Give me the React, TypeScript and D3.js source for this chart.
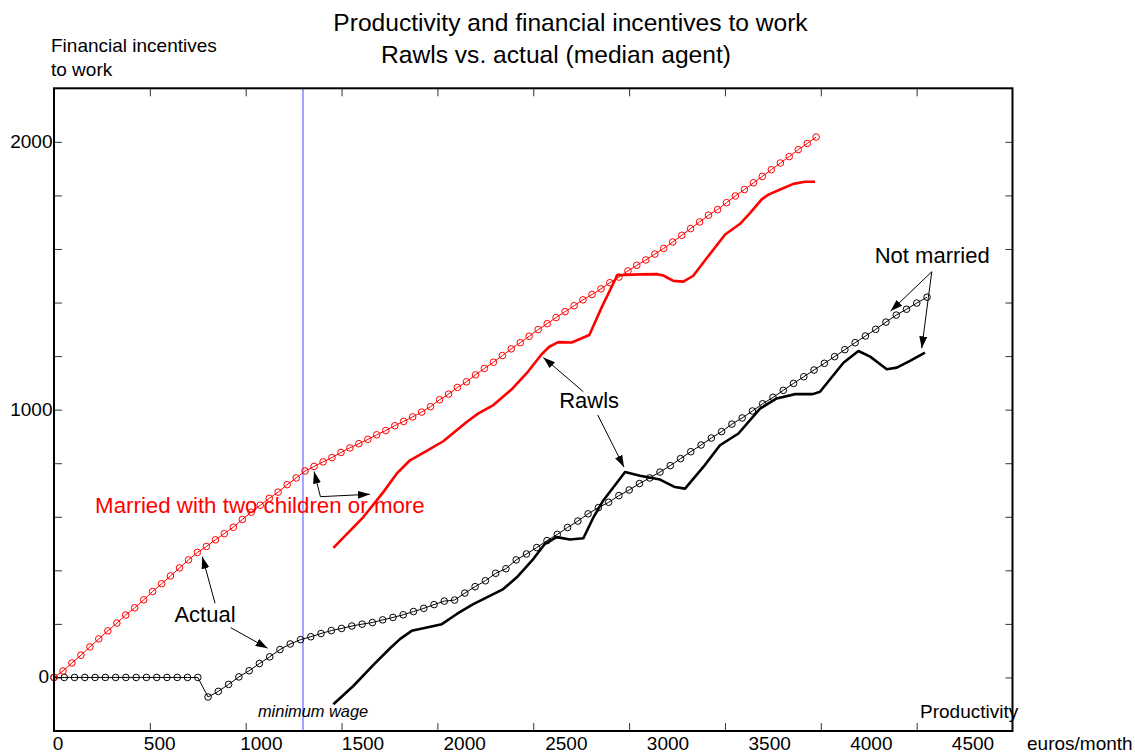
import React, { useEffect, useRef } from 'react';
import * as d3 from 'd3';

// ---------- data ----------
const xTickLabels = [0, 500, 1000, 1500, 2000, 2500, 3000, 3500, 4000, 4500];
const yTickValues = [0, 200, 400, 600, 800, 1000, 1200, 1400, 1600, 1800, 2000];
const yTickLabels = [0, 1000, 2000];
const minimumWage = 1212;

// Actual, not married (black, with markers)
const singleActualX = [
  0, 50, 100, 150, 200, 250, 300, 350, 400, 450, 500, 550, 600, 650, 700, 750, 800, 850, 900, 950,
  1000, 1050, 1100, 1150, 1200, 1250, 1300, 1350, 1400, 1450, 1500, 1550, 1600, 1650, 1700, 1750,
  1800, 1850, 1900, 1950, 2000, 2050, 2100, 2150, 2200, 2250, 2300, 2350, 2400, 2450, 2500, 2550,
  2600, 2650, 2700, 2750, 2800, 2850, 2900, 2950, 3000, 3050, 3100, 3150, 3200, 3250, 3300, 3350,
  3400, 3450, 3500, 3550, 3600, 3650, 3700, 3750, 3800, 3850, 3900, 3950, 4000, 4050, 4100, 4150,
  4200, 4250,
];
const singleActualY = [
  0, 0, 0, 0, 0, 0, 0, 0, 0, 0, 0, 0, 0, 0, 0,
  -73, -52, -26, 2, 25, 52, 77, 104, 125, 141,
  152, 164, 175, 183, 192, 199, 205, 215, 224, 234,
  246, 258, 272, 285, 289, 315, 339, 361, 389, 406,
  439, 461, 485, 511, 534, 560, 584, 611, 634, 654,
  679, 700, 724, 745, 767, 791, 817, 843, 868, 894,
  918, 946, 969, 995, 1022, 1046, 1072, 1098, 1123, 1148,
  1173, 1198, 1224, 1250, 1275, 1300, 1327, 1353, 1375, 1398, 1420,
];

// Actual, married with two children or more (red, with markers)
const marriedActualX = [
  0, 44, 87, 131, 175, 218, 262, 306, 349, 393, 437, 480, 524, 567, 611, 655, 698, 742, 786, 829,
  873, 917, 960, 1004, 1048, 1091, 1135, 1179, 1222, 1266, 1310, 1353, 1397, 1440, 1484, 1528,
  1571, 1615, 1659, 1702, 1746, 1790, 1833, 1877, 1921, 1964, 2008, 2052, 2095, 2139, 2183, 2226,
  2270, 2313, 2357, 2401, 2444, 2488, 2532, 2575, 2619, 2663, 2706, 2750, 2794, 2837, 2881, 2925,
  2968, 3012, 3056, 3099, 3143, 3186, 3230, 3274, 3317, 3361, 3405, 3448, 3492, 3536, 3579, 3623,
  3667, 3710,
];
const marriedActualY = [
  0, 24, 54, 83, 114, 144, 174, 203, 233, 260,
  290, 321, 350, 379, 409, 439, 467, 489, 514, 537,
  561, 590, 617, 643, 669, 692, 720, 745, 771, 788,
  805, 821, 840, 857, 873, 889, 906, 922, 940, 956,
  973, 991, 1011, 1037, 1058, 1083, 1104, 1130, 1154, 1177,
  1202, 1227, 1250, 1274, 1299, 1321, 1344, 1366, 1388, 1410,
  1430, 1451, 1474, 1495, 1518, 1539, 1559, 1581, 1602, 1626,
  1651, 1676, 1701, 1726, 1747, 1773, 1798, 1822, 1847, 1871,
  1896, 1921, 1945, 1971, 1994, 2018,
];

// Rawls, married (red thick)
const marriedRawlsX = [
  1360, 1506, 1603, 1668, 1733, 1806, 1895, 2009, 2066, 2139, 2228, 2301, 2374, 2411, 2455, 2520,
  2606, 2666, 2742, 2853, 2934, 2966, 3015, 3064, 3112, 3178, 3267, 3340, 3389, 3445, 3478, 3535,
  3599, 3656, 3705,
];
const marriedRawlsY = [
  484, 599, 692, 761, 811, 842, 882, 954, 986, 1017, 1076, 1136, 1207, 1235, 1252, 1251,
  1279, 1382, 1502, 1505, 1506, 1501, 1481, 1478, 1500, 1566, 1654, 1694, 1735, 1785, 1803, 1822,
  1843, 1851, 1851,
];

// Rawls, not married (black thick)
const singleRawlsX = [
  1360, 1457, 1555, 1636, 1684, 1741, 1798, 1888, 1961, 2041, 2107, 2187, 2253, 2334, 2390, 2447,
  2512, 2577, 2626, 2674, 2780, 2853, 2950, 3023, 3072, 3161, 3242, 3332, 3437, 3518, 3608, 3694,
  3729, 3843, 3916, 3973, 4054, 4103, 4167, 4240,
];
const singleRawlsY = [
  -100, -32, 47, 109, 143, 174, 184, 199, 237, 274, 299, 330, 374, 443, 499, 524,
  515, 520, 598, 661, 767, 753, 739, 711, 705, 786, 867, 911, 1004, 1042, 1058, 1058,
  1067, 1175, 1219, 1198, 1151, 1157, 1182, 1213,
];

// annotations (data units)
const annotationLabels = ['Actual', 'Rawls', 'Not married'];
const annotationLabelX = [735, 2605, 4275];
const annotationLabelY = [206, 1005, 1546];
const arrowFromX = [784, 860, 1297, 1297, 2577, 2647, 4273, 4273];
const arrowFromY = [277, 186, 675, 675, 1067, 980, 1515, 1515];
const arrowToX = [722, 1040, 1266, 1538, 2382, 2775, 4073, 4224];
const arrowToY = [451, 109, 769, 684, 1195, 785, 1368, 1229];

const xMax = 4666;
const yMin = -200;
const yMax = 2200;

export default function App() {
  const ref = useRef<SVGSVGElement>(null);

  useEffect(() => {
    const svg = d3.select(ref.current);
    svg.selectAll('*').remove();
    const font = "'Liberation Sans', Arial, Helvetica, sans-serif";

    const x = d3.scaleLinear().domain([0, xMax]).range([54, 1012.5]);
    const y = d3.scaleLinear().domain([yMin, yMax]).range([731, 88.3]);
    const labelX = d3.scaleLinear().domain([0, 4500]).range([58, 973]);

    const defs = svg.append('defs');
    defs
      .append('marker')
      .attr('id', 'arrowHead')
      .attr('viewBox', '0 0 12 8')
      .attr('markerWidth', 12)
      .attr('markerHeight', 8)
      .attr('refX', 12)
      .attr('refY', 4)
      .attr('orient', 'auto')
      .attr('markerUnits', 'userSpaceOnUse')
      .append('path')
      .attr('d', 'M0,0L12,4L0,8Z')
      .attr('fill', '#000');

    svg.append('rect').attr('width', 1135).attr('height', 755).attr('fill', '#fff');

    // Title
    svg
      .append('text')
      .attr('x', 570.5)
      .attr('y', 31)
      .attr('text-anchor', 'middle')
      .attr('font-family', font)
      .attr('font-size', 24.6)
      .text('Productivity and financial incentives to work');
    svg
      .append('text')
      .attr('x', 556)
      .attr('y', 63)
      .attr('text-anchor', 'middle')
      .attr('font-family', font)
      .attr('font-size', 24.6)
      .text('Rawls vs. actual (median agent)');

    // Y axis title
    svg
      .append('text')
      .attr('x', 51)
      .attr('y', 52)
      .attr('font-family', font)
      .attr('font-size', 19)
      .text('Financial incentives');
    svg
      .append('text')
      .attr('x', 51)
      .attr('y', 76)
      .attr('font-family', font)
      .attr('font-size', 19)
      .text('to work');

    // ticks
    const xTicks = d3.range(1, 10).map((k) => (k * xMax) / 10);
    const tickColor = '#333';
    svg
      .append('g')
      .attr('transform', `translate(0,${y(yMin)})`)
      .attr('color', tickColor)
      .call(d3.axisBottom(x).tickValues(xTicks).tickSize(-8).tickFormat(() => ''))
      .call((g) => g.select('.domain').remove());
    svg
      .append('g')
      .attr('transform', `translate(0,${y(yMax)})`)
      .attr('color', tickColor)
      .call(d3.axisTop(x).tickValues(xTicks).tickSize(-8).tickFormat(() => ''))
      .call((g) => g.select('.domain').remove());
    svg
      .append('g')
      .attr('transform', `translate(${x(0)},0)`)
      .attr('color', tickColor)
      .call(d3.axisLeft(y).tickValues(yTickValues).tickSize(-8).tickFormat(() => ''))
      .call((g) => g.select('.domain').remove());
    svg
      .append('g')
      .attr('transform', `translate(${x(xMax)},0)`)
      .attr('color', tickColor)
      .call(d3.axisRight(y).tickValues(yTickValues).tickSize(-7).tickFormat(() => ''))
      .call((g) => g.select('.domain').remove());

    // tick labels
    svg
      .append('g')
      .selectAll('text')
      .data(xTickLabels)
      .join('text')
      .attr('x', (d) => labelX(d))
      .attr('y', 750)
      .attr('text-anchor', 'middle')
      .attr('font-family', font)
      .attr('font-size', 19)
      .text((d) => String(d));
    svg
      .append('g')
      .selectAll('text')
      .data(yTickLabels)
      .join('text')
      .attr('x', (d) => (d === 0 ? 49 : 52.5))
      .attr('y', (d) => y(d) + 6)
      .attr('text-anchor', 'end')
      .attr('font-family', font)
      .attr('font-size', 19)
      .text((d) => String(d));

    svg
      .append('text')
      .attr('x', 1027)
      .attr('y', 750)
      .attr('font-family', font)
      .attr('font-size', 19)
      .text('euros/month');
    svg
      .append('text')
      .attr('x', 920)
      .attr('y', 718)
      .attr('font-family', font)
      .attr('font-size', 19)
      .text('Productivity');

    // minimum wage
    svg
      .append('line')
      .attr('x1', x(minimumWage))
      .attr('x2', x(minimumWage))
      .attr('y1', y(yMax))
      .attr('y2', y(yMin))
      .attr('stroke', '#4a4aff')
      .attr('stroke-width', 1);
    svg
      .append('text')
      .attr('x', x(minimumWage) - 45)
      .attr('y', 717)
      .attr('font-family', font)
      .attr('font-size', 16.4)
      .attr('font-style', 'italic')
      .text('minimum wage');

    const line = d3
      .line<[number, number]>()
      .x((d) => x(d[0]))
      .y((d) => y(d[1]));

    const zip = (xs: number[], ys: number[]) => xs.map((v, i) => [v, ys[i]] as [number, number]);

    const single = zip(singleActualX, singleActualY);
    const married = zip(marriedActualX, marriedActualY);

    // Rawls lines
    svg
      .append('path')
      .attr('d', line(zip(singleRawlsX, singleRawlsY)))
      .attr('fill', 'none')
      .attr('stroke', '#000')
      .attr('stroke-width', 2.6)
      .attr('stroke-linejoin', 'round');
    svg
      .append('path')
      .attr('d', line(zip(marriedRawlsX, marriedRawlsY)))
      .attr('fill', 'none')
      .attr('stroke', '#ff0000')
      .attr('stroke-width', 2.6)
      .attr('stroke-linejoin', 'round');

    // actual lines with markers
    const drawActual = (data: [number, number][], color: string) => {
      svg
        .append('path')
        .attr('d', line(data))
        .attr('fill', 'none')
        .attr('stroke', color)
        .attr('stroke-width', 1);
      svg
        .append('g')
        .selectAll('circle')
        .data(data)
        .join('circle')
        .attr('cx', (d) => x(d[0]))
        .attr('cy', (d) => y(d[1]))
        .attr('r', 3.3)
        .attr('fill', 'none')
        .attr('stroke', color)
        .attr('stroke-width', 1);
    };
    drawActual(single, '#000');
    drawActual(married, '#ff0000');

    // annotation arrows
    svg
      .append('g')
      .selectAll('line')
      .data(arrowFromX.map((_, i) => i))
      .join('line')
      .attr('x1', (i) => x(arrowFromX[i]))
      .attr('y1', (i) => y(arrowFromY[i]))
      .attr('x2', (i) => x(arrowToX[i]))
      .attr('y2', (i) => y(arrowToY[i]))
      .attr('stroke', '#000')
      .attr('stroke-width', 1)
      .attr('marker-end', 'url(#arrowHead)');

    svg
      .append('g')
      .selectAll('text')
      .data(annotationLabels)
      .join('text')
      .attr('x', (_, i) => x(annotationLabelX[i]))
      .attr('y', (_, i) => y(annotationLabelY[i]))
      .attr('text-anchor', 'middle')
      .attr('font-family', font)
      .attr('font-size', 22)
      .text((d) => d);

    svg
      .append('text')
      .attr('x', x(200))
      .attr('y', y(613))
      .attr('font-family', font)
      .attr('font-size', 22.3)
      .attr('fill', '#ff0000')
      .text('Married with two children or more');

    // frame
    svg
      .append('rect')
      .attr('x', x(0))
      .attr('y', y(yMax))
      .attr('width', x(xMax) - x(0))
      .attr('height', y(yMin) - y(yMax))
      .attr('fill', 'none')
      .attr('stroke', '#000')
      .attr('stroke-width', 2);
  }, []);

  return (
    <svg
      ref={ref}
      width={1135}
      height={755}
      style={{ position: 'absolute', left: 0, top: 0, display: 'block' }}
    />
  );
}
